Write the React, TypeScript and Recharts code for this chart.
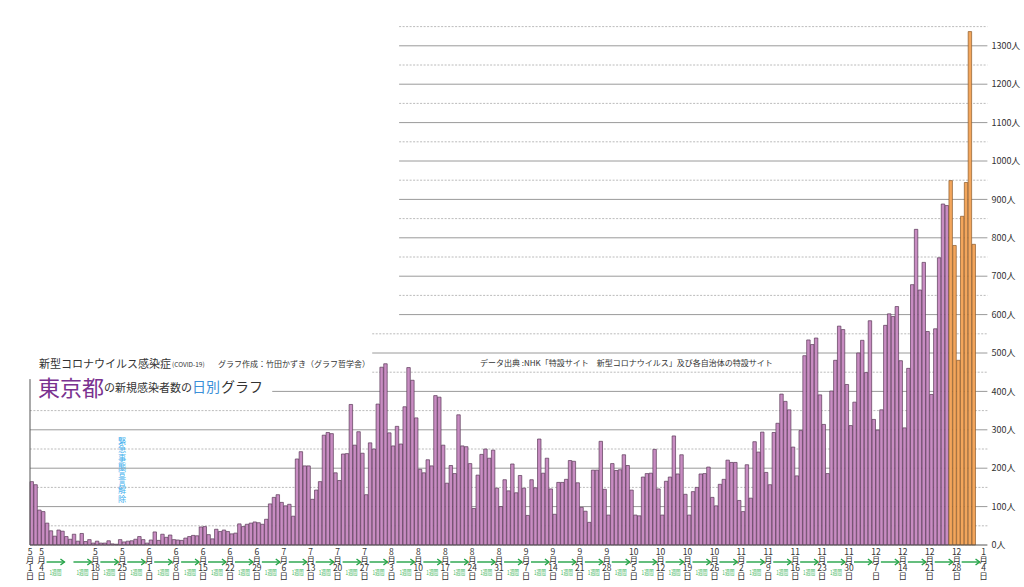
import React from "react";
import { BarChart, Bar, Cell, XAxis, YAxis, ReferenceLine } from "recharts";

// 日別の新規感染者数（東京都）
const mayCases = [165, 157, 91, 87, 57, 37, 23, 39, 36, 22, 15, 28, 10, 30, 9, 14, 5, 10, 5, 5, 11, 3, 2, 14, 8, 10, 11, 15, 22, 14, 5];
const junCases = [13, 34, 12, 28, 20, 26, 14, 13, 12, 18, 22, 25, 24, 47, 48, 27, 16, 41, 35, 39, 35, 29, 31, 55, 48, 54, 57, 60, 58, 54];
const julCases = [67, 107, 124, 131, 111, 102, 106, 75, 224, 243, 206, 206, 119, 143, 165, 286, 293, 290, 188, 168, 237, 238, 366, 260, 295, 239, 131, 266, 250, 367, 463];
const augCases = [472, 292, 258, 309, 263, 360, 462, 429, 331, 197, 188, 222, 206, 389, 385, 260, 161, 207, 186, 339, 258, 256, 212, 95, 182, 236, 250, 226, 247, 148, 100];
const sepCases = [170, 141, 211, 136, 181, 148, 77, 170, 149, 276, 187, 226, 146, 80, 163, 163, 171, 220, 218, 162, 98, 88, 59, 195, 195, 270, 145, 78, 212, 194];
const octCases = [196, 235, 207, 143, 78, 76, 177, 186, 187, 249, 146, 78, 166, 177, 284, 185, 235, 132, 78, 139, 150, 185, 186, 203, 124, 102, 158, 171, 221, 215, 215];
const novCases = [116, 87, 209, 122, 269, 242, 294, 189, 157, 293, 317, 393, 374, 352, 255, 180, 298, 493, 534, 522, 539, 391, 314, 186, 401, 481, 570, 561, 418, 311];
const decCases = [372, 500, 533, 449, 584, 327, 299, 352, 572, 602, 595, 621, 480, 305, 460, 678, 822, 664, 736, 556, 392, 563, 748, 888, 884, 949, 780, 481, 856, 944, 1337];
const janCases = [783];

// 月と日数（1月は4日まで軸を伸ばす）
const months = [5, 6, 7, 8, 9, 10, 11, 12, 1];
const monthLengths = [31, 30, 31, 31, 30, 31, 30, 31, 4];

const allCases = [...mayCases, ...junCases, ...julCases, ...augCases, ...sepCases, ...octCases, ...novCases, ...decCases, ...janCases];
const latestFrom = "12/26"; // ここから橙色

const tickLabels = ["5/1", "5/4", "5/18", "5/25", "6/1", "6/8", "6/15", "6/22", "6/29", "7/6", "7/13", "7/20", "7/27", "8/3", "8/10", "8/17", "8/24", "8/31", "9/7", "9/14", "9/21", "9/28", "10/5", "10/12", "10/19", "10/26", "11/2", "11/9", "11/16", "11/23", "11/30", "12/7", "12/14", "12/21", "12/28", "1/4"];
const weekStarts = ["5/4", "5/11", "5/18", "5/25", "6/1", "6/8", "6/15", "6/22", "6/29", "7/6", "7/13", "7/20", "7/27", "8/3", "8/10", "8/17", "8/24", "8/31", "9/7", "9/14", "9/21", "9/28", "10/5", "10/12", "10/19", "10/26", "11/2", "11/9", "11/16", "11/23", "11/30", "12/7", "12/14", "12/21", "12/28"];
const lastWeekLabel = "11/23"; // 「1週間」はここまで

const rightTicks = [0, 100, 200, 300, 400, 500, 600, 700, 800, 900, 1000, 1100, 1200, 1300];
const leftTicks = [0, 100, 200, 300, 400];

const dates: string[] = [];
months.forEach((m, i) => {
  for (let d = 1; d <= monthLengths[i]; d++) dates.push(`${m}/${d}`);
});
const data = dates.map((date, i) => ({ date, cases: i < allCases.length ? allCases[i] : null }));
const latestIdx = dates.indexOf(latestFrom);

const W = 1024;
const H = 587;
const LEFT_W = 30;
const RIGHT_W = 36.6;
const BAND = (W - LEFT_W - RIGHT_W) / dates.length;
const JP = '"Noto Sans CJK JP", "Noto Sans", sans-serif';

// 上の方の目盛線は見出しを避けて途中から
const gridStart = (v: number) => (v <= 350 ? null : v === 400 ? "7/2" : v <= 550 ? "7/28" : "8/4");
const gridValues: number[] = [];
for (let v = 50; v <= 1350; v += 50) gridValues.push(v);

const DateTick = (props: any) => {
  const { x, y, payload } = props;
  const key: string = payload.value;
  const left = x - BAND / 2;
  const [m, d] = key.split("/");
  const wi = weekStarts.indexOf(key);
  const arrowEnd = left + 7 * BAND - 4;
  return (
    <g>
      {tickLabels.includes(key) &&
        [m, "月", d, "日"].map((c, i) => (
          <text key={i} x={left} y={y + 6 + i * 8} textAnchor="middle" dominantBaseline="central" fontSize={8.5} fill="#333" fontFamily={JP}>
            {c}
          </text>
        ))}
      {wi >= 0 && (
        <g>
          <line x1={left + 5} y1={y + 17} x2={arrowEnd} y2={y + 17} stroke="#23a347" strokeWidth={1.4} />
          <polyline points={`${arrowEnd - 4},${y + 14} ${arrowEnd},${y + 17} ${arrowEnd - 4},${y + 20}`} fill="none" stroke="#23a347" strokeWidth={1.4} />
          {wi <= weekStarts.indexOf(lastWeekLabel) && (
            <text
              x={(left + 5 + arrowEnd) / 2}
              y={y + 27}
              textAnchor="middle"
              dominantBaseline="central"
              fontSize={6.5}
              textLength={12}
              lengthAdjust="spacingAndGlyphs"
              fill="#45b862"
              fontFamily={JP}
            >
              1週間
            </text>
          )}
        </g>
      )}
    </g>
  );
};

const txt = (s: React.CSSProperties): React.CSSProperties => ({
  position: "absolute",
  whiteSpace: "nowrap",
  lineHeight: 1,
  fontFamily: JP,
  color: "#333",
  ...s,
});

export default function App() {
  return (
    <div style={{ position: "absolute", left: 0, top: 0, width: W, height: H, background: "#fff" }}>
      <BarChart width={W} height={H} data={data} margin={{ top: 26.6, right: 0, bottom: 0, left: 0 }} barCategoryGap={0} barGap={0}>
        <XAxis
          dataKey="date"
          height={42}
          ticks={weekStarts.concat(["5/1", "1/4"])}
          interval={0}
          tick={<DateTick />}
          tickLine={false}
          tickSize={0}
          tickMargin={0}
          axisLine={{ stroke: "#555" }}
        />
        <YAxis
          yAxisId="l"
          orientation="left"
          width={LEFT_W}
          domain={[0, 1350]}
          ticks={leftTicks}
          tickFormatter={(v: number) => `${v}人`}
          tick={{ fontSize: 8, fill: "#333", fontFamily: JP }}
          tickSize={4}
          tickMargin={2}
          tickLine={{ stroke: "#555" }}
          axisLine={false}
        />
        <YAxis
          yAxisId="r"
          orientation="right"
          width={RIGHT_W}
          domain={[0, 1350]}
          ticks={rightTicks}
          tickFormatter={(v: number) => `${v}人`}
          tick={{ fontSize: 9, fill: "#333", fontFamily: JP }}
          tickSize={2}
          tickMargin={2}
          tickLine={false}
          axisLine={false}
        />
        {gridValues.map((v) => {
          const solid = v % 100 === 0;
          const style = solid
            ? { stroke: "#9a9a9a", strokeWidth: 1 }
            : { stroke: "#aaa", strokeWidth: 0.8, strokeDasharray: "2 1.5" };
          const start = gridStart(v);
          return start === null ? (
            <ReferenceLine key={v} yAxisId="r" y={v} zIndex={-50} {...style} />
          ) : (
            <ReferenceLine key={v} yAxisId="r" position="end" zIndex={-50} segment={[{ x: start, y: v }, { x: "1/4", y: v }]} {...style} />
          );
        })}
        <ReferenceLine yAxisId="r" position="start" segment={[{ x: "5/1", y: 0 }, { x: "5/1", y: 432 }]} stroke="#555" />
        <Bar yAxisId="r" dataKey="cases" barSize={BAND} isAnimationActive={false}>
          {data.map((e, i) => (
            <Cell
              key={e.date}
              fill={i >= latestIdx ? "#f3a65c" : "#c88cc2"}
              stroke={i >= latestIdx ? "#8b5a2b" : "#5a3957"}
              strokeWidth={0.7}
            />
          ))}
        </Bar>
      </BarChart>

      <div style={txt({ left: 39, top: 358, fontSize: 11 })}>新型コロナウイルス感染症</div>
      <div style={txt({ left: 172, top: 361, fontSize: 6.5 })}>(COVID-19)</div>
      <div style={txt({ left: 218, top: 360, fontSize: 8 })}>グラフ作成：竹田かずき（グラフ哲学舎）</div>
      <div style={txt({ left: 480, top: 359, fontSize: 8 })}>データ出典 :NHK「特設サイト　新型コロナウイルス」及び各自治体の特設サイト</div>
      <div style={txt({ left: 38, top: 375, fontSize: 22, color: "#7a3290" })}>東京都</div>
      <div style={txt({ left: 104, top: 382, fontSize: 11 })}>の新規感染者数の</div>
      <div style={txt({ left: 192, top: 379, fontSize: 14, color: "#3b8fd8" })}>日別</div>
      <div style={txt({ left: 221, top: 379, fontSize: 14 })}>グラフ</div>
      <div style={txt({ left: 118, top: 437, fontSize: 8.2, color: "#3fb0ee", writingMode: "vertical-rl" })}>緊急事態宣言解除</div>
    </div>
  );
}
